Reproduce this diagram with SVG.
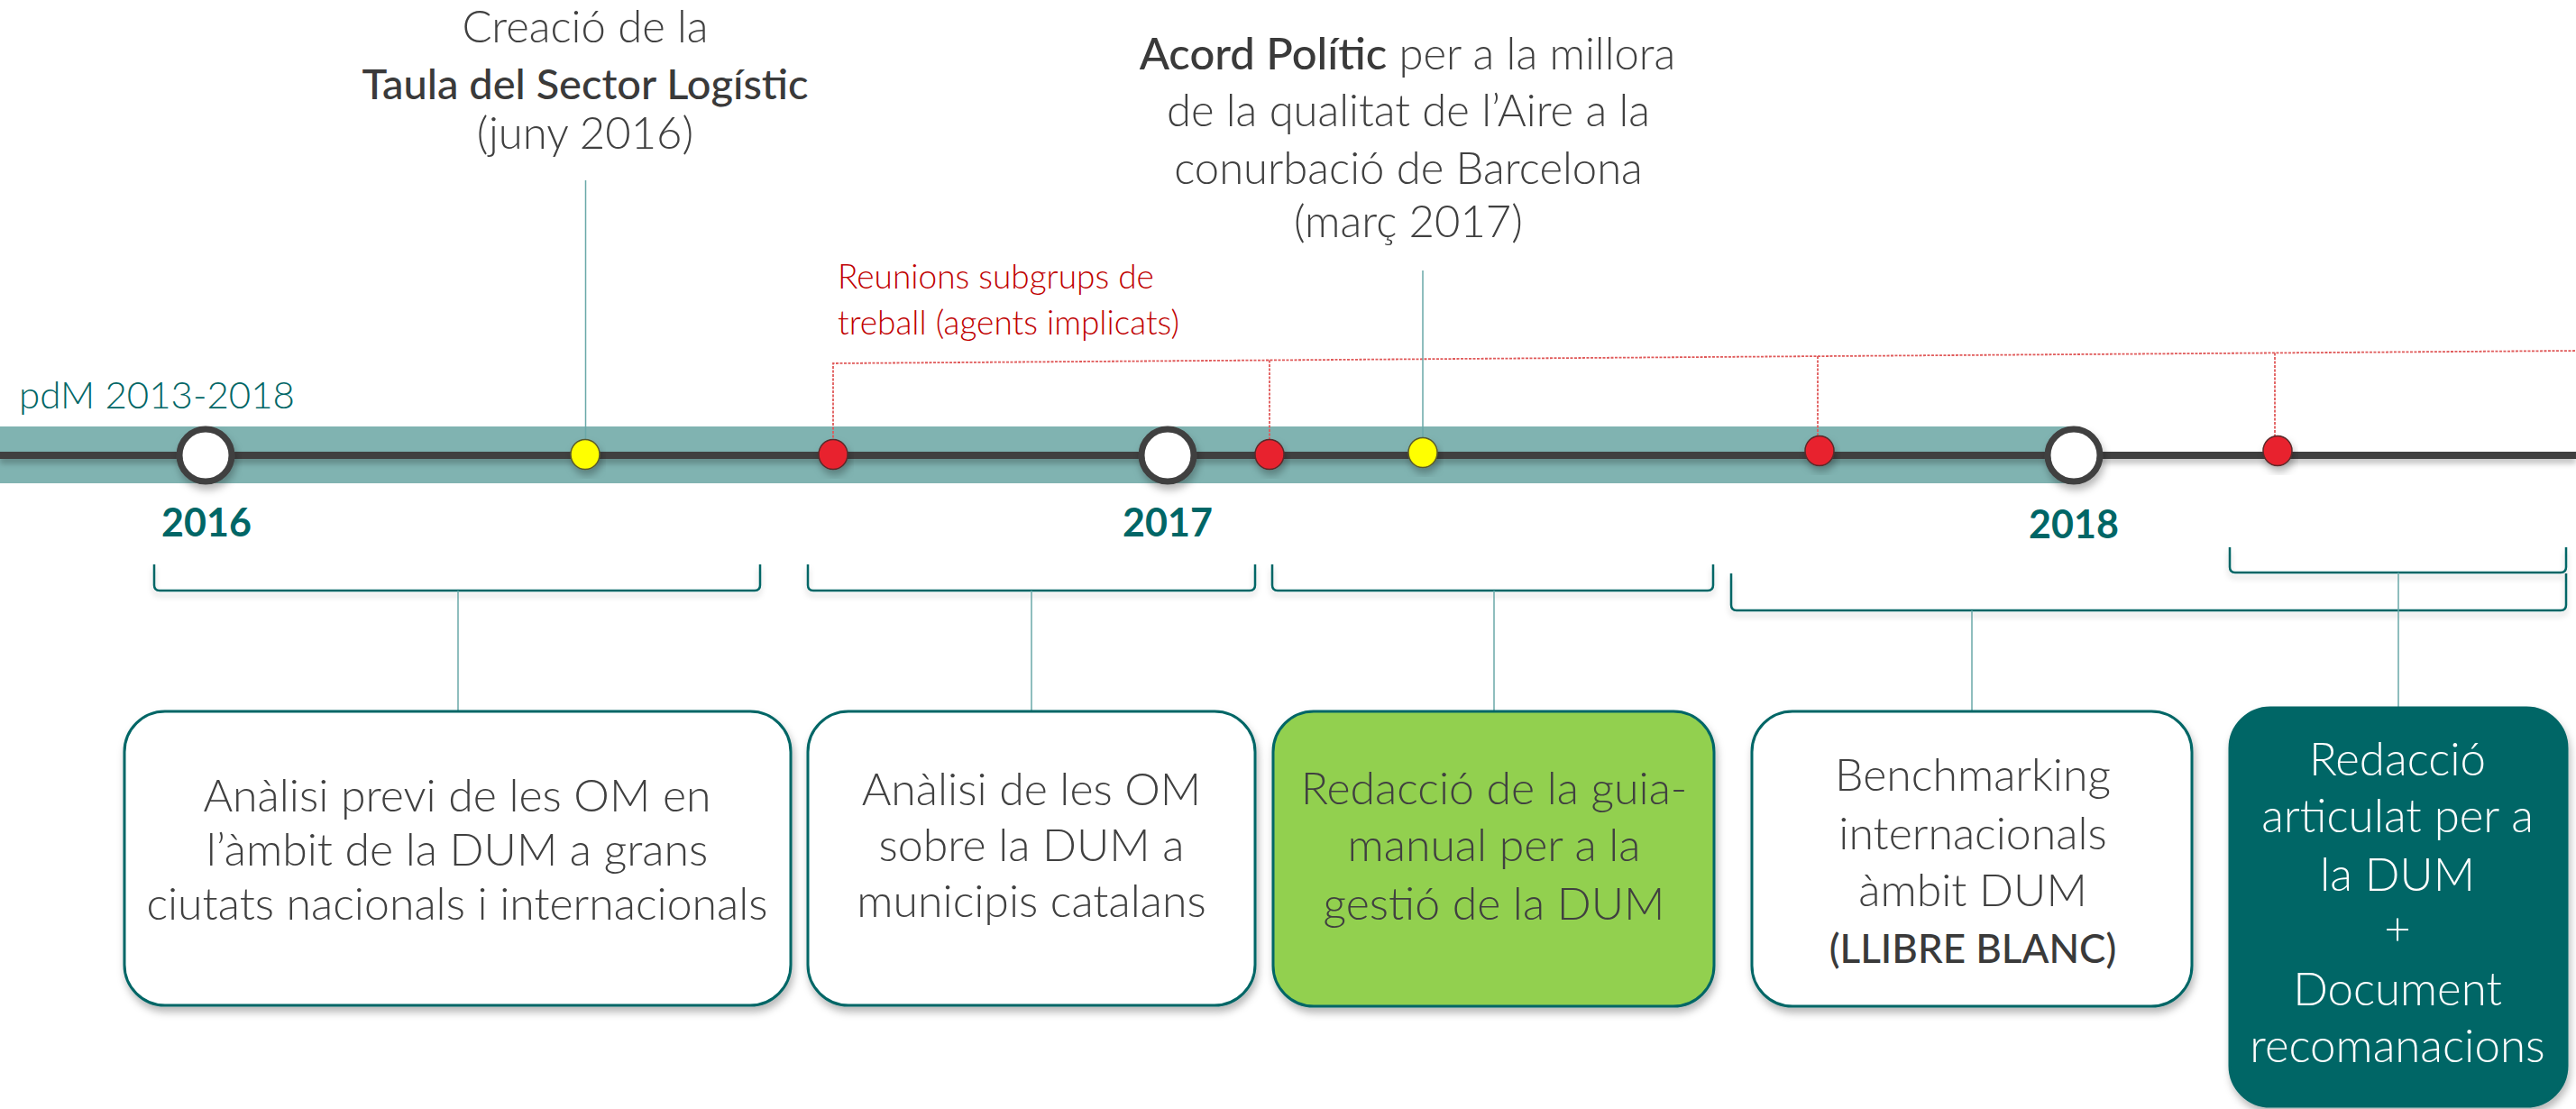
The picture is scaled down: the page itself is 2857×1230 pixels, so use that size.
<svg xmlns="http://www.w3.org/2000/svg" width="2857" height="1230" viewBox="0 0 2857 1230">
<defs>
<filter id="sh" x="-20%" y="-20%" width="140%" height="150%">
<feDropShadow dx="2" dy="6" stdDeviation="4" flood-color="#000" flood-opacity="0.28"/>
</filter>
<filter id="shs" x="-10%" y="-50%" width="120%" height="250%">
<feDropShadow dx="0" dy="5" stdDeviation="3" flood-color="#000" flood-opacity="0.18"/>
</filter>
<filter id="shl" filterUnits="userSpaceOnUse" x="-10" y="480" width="2880" height="60">
<feDropShadow dx="0" dy="5" stdDeviation="3" flood-color="#000" flood-opacity="0.25"/>
</filter>
</defs>
<style>
.t{font-family:Lato,"Open Sans","Liberation Sans",sans-serif;fill:#404040;font-weight:300}
.em{font-weight:500;fill:#3a3a3a}
.c{text-anchor:middle}
.top{font-size:49px}
.red{font-size:37px;fill:#C00000;font-weight:300}
.pdm{font-size:42px;fill:#006666;font-weight:300}
.yr{font-size:43px;fill:#006666;font-weight:700;text-anchor:middle}
.bx{font-size:50px}
.b5{font-size:51px;fill:#fff;font-weight:300}
.box{stroke:#006666;stroke-width:3;fill:#fff;filter:url(#sh)}
.brk{fill:none;stroke:#006666;stroke-width:2.5;filter:url(#shs)}
.stem{stroke:#6aa9a9;stroke-width:1.5;fill:none}
.rl{stroke:#e05a5a;stroke-width:1.8;fill:none;stroke-dasharray:3 1.5}
.mile{fill:#fff;stroke:#404040;stroke-width:7;filter:url(#sh)}
.rd{fill:#E8202F;stroke:#5a2a2a;stroke-width:1.5;filter:url(#sh)}
.yl{fill:#FFFF00;stroke:#5a5a2a;stroke-width:1.5;filter:url(#sh)}
</style>
<rect x="0" y="473" width="2300" height="63" fill="#80B3B1"/>
<rect x="0" y="501" width="2857" height="8" fill="#404040" filter="url(#shl)"/>
<g id="connectors">
<path class="rl" d="M924,490 L924,403 L2857,389"/>
<line class="rl" x1="1408" y1="399.5" x2="1408" y2="490"/>
<line class="rl" x1="2016" y1="395" x2="2016" y2="490"/>
<line class="rl" x1="2523" y1="391.5" x2="2523" y2="490"/>
<line class="stem" x1="649.5" y1="200" x2="649.5" y2="489"/>
<line class="stem" x1="1578" y1="300" x2="1578" y2="489"/>
<path class="brk" d="M171,626 L171,649 Q171,655 177,655 L837,655 Q843,655 843,649 L843,626"/>
<path class="brk" d="M896,626 L896,649 Q896,655 902,655 L1386,655 Q1392,655 1392,649 L1392,626"/>
<path class="brk" d="M1411,626 L1411,649 Q1411,655 1417,655 L1894,655 Q1900,655 1900,649 L1900,626"/>
<path class="brk" d="M1920,636 L1920,671 Q1920,677 1926,677 L2840,677 Q2846,677 2846,671 L2846,636"/>
<path class="brk" d="M2473,607 L2473,629 Q2473,635 2479,635 L2840,635 Q2846,635 2846,629 L2846,607"/>
<line class="stem" x1="508" y1="655" x2="508" y2="789"/>
<line class="stem" x1="1144" y1="655" x2="1144" y2="789"/>
<line class="stem" x1="1657" y1="655" x2="1657" y2="789"/>
<line class="stem" x1="2187" y1="677" x2="2187" y2="789"/>
<line class="stem" x1="2660" y1="635" x2="2660" y2="785"/>
</g>
<g id="m2016"><circle class="mile" cx="228" cy="505" r="29"/><text class="t yr" x="229" y="595">2016</text></g>
<g id="m2017"><circle class="mile" cx="1295" cy="505" r="29"/><text class="t yr" x="1295" y="595">2017</text></g>
<g id="m2018"><circle class="mile" cx="2300" cy="505" r="29"/><text class="t yr" x="2300" y="597">2018</text></g>
<g id="dots">
<ellipse class="yl" cx="649" cy="504" rx="16" ry="16.5"/>
<ellipse class="rd" cx="924" cy="504" rx="16" ry="16.5"/>
<ellipse class="rd" cx="1408" cy="504" rx="16" ry="16.5"/>
<ellipse class="yl" cx="1578" cy="502" rx="16" ry="16.5"/>
<ellipse class="rd" cx="2018" cy="500" rx="16" ry="16.5"/>
<ellipse class="rd" cx="2526" cy="500" rx="16" ry="16.5"/>
</g>
<g id="pdm"><text class="t pdm" x="21" y="453">pdM 2013-2018</text></g>
<g id="taula">
<text class="t top c" x="649" y="47">Creació de la</text>
<text class="t top c em" x="649" y="110" style="font-size:47px">Taula del Sector Logístic</text>
<text class="t top c" x="649" y="165">(juny 2016)</text>
</g>
<g id="acord">
<text class="t top c" x="1561" y="77"><tspan class="em">Acord Polític</tspan> per a la millora</text>
<text class="t top c" x="1562" y="140">de la qualitat de l’Aire a la</text>
<text class="t top c" x="1562" y="204">conurbació de Barcelona</text>
<text class="t top c" x="1562" y="263">(març 2017)</text>
</g>
<g id="reunions">
<text class="t red" x="929" y="320">Reunions subgrups de</text>
<text class="t red" x="929" y="371">treball (agents implicats)</text>
</g>
<g id="box1">
<rect class="box" x="138" y="789" width="739" height="326" rx="45"/>
<text class="t bx c" x="507" y="900">Anàlisi previ de les OM en</text>
<text class="t bx c" x="507" y="960">l’àmbit de la DUM a grans</text>
<text class="t bx c" x="507" y="1020">ciutats nacionals i internacionals</text>
</g>
<g id="box2">
<rect class="box" x="896" y="789" width="496" height="326" rx="45"/>
<text class="t bx c" x="1144" y="893">Anàlisi de les OM</text>
<text class="t bx c" x="1144" y="955">sobre la DUM a</text>
<text class="t bx c" x="1144" y="1017">municipis catalans</text>
</g>
<g id="box3">
<rect class="box" x="1412" y="789" width="489" height="327" rx="45" style="fill:#92D050"/>
<text class="t bx c" x="1657" y="892">Redacció de la guia-</text>
<text class="t bx c" x="1657" y="955">manual per a la</text>
<text class="t bx c" x="1657" y="1020">gestió de la DUM</text>
</g>
<g id="box4">
<rect class="box" x="1943" y="789" width="488" height="327" rx="45"/>
<text class="t bx c" x="2188" y="877">Benchmarking</text>
<text class="t bx c" x="2188" y="942">internacionals</text>
<text class="t bx c" x="2188" y="1005">àmbit DUM</text>
<text class="t bx c em" x="2188" y="1068" style="font-size:44px">(LLIBRE BLANC)</text>
</g>
<g id="box5">
<rect class="box" x="2473" y="785" width="374" height="442" rx="45" style="fill:#006666"/>
<text class="t b5 c" x="2659" y="860">Redacció</text>
<text class="t b5 c" x="2659" y="923">articulat per a</text>
<text class="t b5 c" x="2659" y="988">la DUM</text>
<text class="t b5 c" x="2659" y="1048">+</text>
<text class="t b5 c" x="2659" y="1115">Document</text>
<text class="t b5 c" x="2659" y="1178">recomanacions</text>
</g>
</svg>
